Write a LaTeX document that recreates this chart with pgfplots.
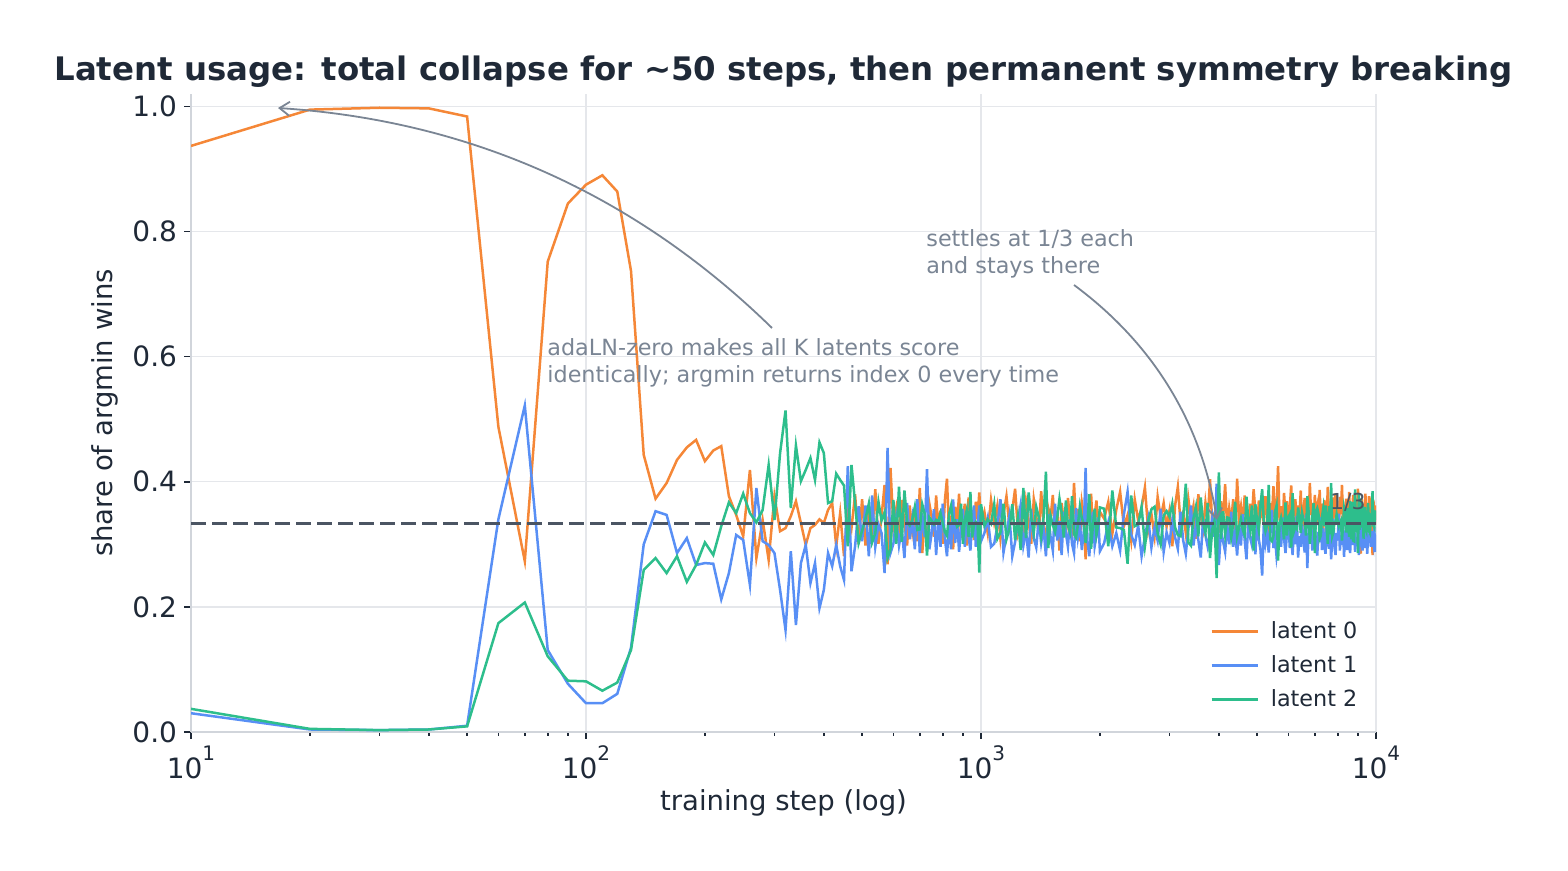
\documentclass[border=0pt]{standalone}
\usepackage{pgfplots}
\pgfplotsset{compat=1.18}
\usepackage{pgfplotstable}
\usepackage{fontspec}
\setmainfont{DejaVu Sans}
\usetikzlibrary{arrows.meta}
\definecolor{cO}{RGB}{245,135,55}
\definecolor{cB}{RGB}{88,143,245}
\definecolor{cG}{RGB}{45,190,140}
\definecolor{cDash}{RGB}{75,85,99}
\definecolor{cAnn}{RGB}{122,133,148}
\definecolor{cTxt}{RGB}{31,41,55}
\definecolor{cGrid}{RGB}{229,231,235}
\definecolor{cSpine}{RGB}{209,213,219}

\pgfplotstableread{
step l0 l1 l2
10 0.937 0.030 0.037
20 0.995 0.004 0.005
30 0.998 0.003 0.003
40 0.997 0.004 0.004
50 0.984 0.010 0.009
60 0.488 0.340 0.174
70 0.273 0.522 0.207
80 0.752 0.131 0.121
90 0.845 0.077 0.082
100 0.875 0.046 0.081
110 0.890 0.046 0.066
120 0.864 0.061 0.079
130 0.737 0.135 0.131
140 0.443 0.300 0.259
150 0.373 0.353 0.278
160 0.398 0.347 0.254
170 0.435 0.286 0.281
180 0.455 0.310 0.240
190 0.467 0.267 0.267
200 0.433 0.270 0.303
210 0.450 0.269 0.283
220 0.457 0.212 0.329
230 0.377 0.254 0.367
240 0.347 0.315 0.350
250 0.313 0.307 0.381
260 0.419 0.235 0.350
270 0.278 0.390 0.335
280 0.339 0.305 0.355
290 0.275 0.299 0.427
300 0.377 0.286 0.339
310 0.321 0.227 0.446
320 0.326 0.163 0.514
330 0.345 0.289 0.358
340 0.369 0.171 0.458
350 0.334 0.270 0.401
360 0.299 0.299 0.419
370 0.326 0.238 0.438
380 0.331 0.270 0.403
390 0.340 0.198 0.463
400 0.334 0.227 0.446
410 0.355 0.286 0.366
420 0.366 0.265 0.369
430 0.297 0.299 0.413
440 0.350 0.265 0.403
450 0.281 0.243 0.394
460 0.355 0.425 0.297
470 0.326 0.257 0.427
480 0.380 0.297 0.366
490 0.300 0.361 0.302
500 0.372 0.305 0.322
510 0.298 0.362 0.341
520 0.355 0.281 0.365
530 0.318 0.378 0.303
540 0.388 0.296 0.318
550 0.301 0.332 0.368
560 0.344 0.318 0.338
570 0.395 0.254 0.351
580 0.268 0.454 0.278
590 0.422 0.286 0.292
600 0.329 0.301 0.371
610 0.357 0.342 0.301
620 0.310 0.298 0.392
630 0.371 0.325 0.304
640 0.336 0.278 0.386
650 0.298 0.366 0.336
660 0.362 0.308 0.330
670 0.320 0.341 0.339
680 0.348 0.292 0.360
690 0.305 0.372 0.323
700 0.390 0.286 0.324
710 0.286 0.350 0.364
720 0.339 0.312 0.349
730 0.298 0.420 0.282
740 0.365 0.292 0.343
750 0.344 0.318 0.338
760 0.312 0.356 0.332
770 0.378 0.283 0.339
780 0.326 0.338 0.336
790 0.354 0.296 0.350
800 0.301 0.365 0.334
810 0.370 0.310 0.320
820 0.405 0.281 0.314
830 0.318 0.334 0.348
840 0.346 0.292 0.362
850 0.292 0.372 0.336
860 0.360 0.302 0.338
870 0.332 0.340 0.328
880 0.381 0.288 0.331
890 0.310 0.325 0.365
900 0.343 0.356 0.301
910 0.365 0.296 0.339
920 0.298 0.348 0.354
930 0.375 0.313 0.312
940 0.326 0.290 0.384
950 0.352 0.337 0.311
960 0.307 0.362 0.331
970 0.368 0.296 0.336
980 0.340 0.328 0.332
990 0.383 0.362 0.255
1000 0.331 0.305 0.364
1020 0.352 0.318 0.330
1040 0.318 0.342 0.340
1060 0.371 0.296 0.333
1080 0.335 0.301 0.364
1100 0.362 0.329 0.309
1120 0.309 0.372 0.319
1140 0.348 0.287 0.365
1160 0.377 0.315 0.308
1180 0.329 0.346 0.325
1200 0.355 0.281 0.364
1220 0.389 0.304 0.307
1240 0.321 0.335 0.344
1260 0.346 0.363 0.291
1280 0.312 0.298 0.390
1300 0.368 0.322 0.310
1320 0.338 0.279 0.383
1340 0.301 0.356 0.343
1360 0.372 0.310 0.318
1380 0.345 0.295 0.360
1400 0.316 0.340 0.344
1420 0.385 0.302 0.313
1440 0.331 0.326 0.343
1460 0.303 0.281 0.416
1480 0.358 0.348 0.294
1500 0.342 0.312 0.346
1520 0.379 0.290 0.331
1540 0.315 0.365 0.320
1560 0.351 0.306 0.343
1580 0.290 0.337 0.373
1600 0.366 0.283 0.351
1620 0.337 0.352 0.311
1640 0.312 0.318 0.370
1660 0.374 0.296 0.330
1680 0.341 0.340 0.319
1700 0.322 0.301 0.377
1720 0.398 0.286 0.316
1740 0.331 0.358 0.311
1760 0.356 0.312 0.332
1780 0.305 0.334 0.361
1800 0.367 0.291 0.342
1820 0.348 0.319 0.333
1840 0.276 0.422 0.302
1860 0.362 0.305 0.333
1880 0.339 0.281 0.380
1900 0.381 0.326 0.293
1920 0.318 0.352 0.330
1940 0.346 0.297 0.357
1960 0.370 0.315 0.315
1980 0.327 0.343 0.330
2000 0.352 0.289 0.359
2050 0.341 0.302 0.357
2100 0.368 0.335 0.297
2150 0.317 0.297 0.386
2200 0.355 0.318 0.327
2250 0.384 0.290 0.326
2300 0.329 0.348 0.323
2350 0.347 0.384 0.269
2400 0.306 0.316 0.378
2450 0.372 0.299 0.329
2500 0.338 0.330 0.332
2550 0.359 0.281 0.360
2600 0.391 0.312 0.297
2650 0.322 0.341 0.337
2700 0.349 0.295 0.356
2750 0.313 0.327 0.360
2800 0.376 0.306 0.318
2850 0.343 0.357 0.300
2900 0.366 0.288 0.346
2950 0.328 0.319 0.353
3000 0.354 0.302 0.344
3050 0.297 0.338 0.365
3100 0.362 0.311 0.327
3150 0.392 0.293 0.315
3200 0.335 0.352 0.313
3250 0.351 0.306 0.343
3300 0.318 0.285 0.397
3350 0.372 0.325 0.303
3400 0.340 0.362 0.298
3450 0.361 0.298 0.341
3500 0.309 0.331 0.360
3550 0.380 0.307 0.313
3600 0.346 0.279 0.375
3650 0.325 0.341 0.334
3700 0.367 0.314 0.319
3750 0.338 0.296 0.366
3800 0.404 0.318 0.278
3850 0.333 0.343 0.324
3900 0.350 0.312 0.338
3950 0.357 0.397 0.246
4000 0.318 0.267 0.415
4050 0.369 0.322 0.309
4100 0.342 0.305 0.353
4150 0.396 0.288 0.316
4200 0.326 0.331 0.343
4250 0.358 0.300 0.342
4300 0.337 0.352 0.311
4350 0.372 0.296 0.332
4400 0.312 0.320 0.368
4450 0.405 0.282 0.313
4500 0.344 0.329 0.327
4550 0.361 0.298 0.341
4600 0.329 0.348 0.323
4650 0.378 0.307 0.315
4700 0.348 0.276 0.376
4750 0.323 0.338 0.339
4800 0.365 0.311 0.324
4850 0.339 0.299 0.362
4900 0.388 0.322 0.290
4950 0.352 0.284 0.364
5000 0.317 0.346 0.337
5050 0.370 0.308 0.322
5100 0.345 0.291 0.364
5150 0.362 0.250 0.388
5200 0.331 0.334 0.335
5250 0.377 0.302 0.321
5300 0.350 0.319 0.331
5350 0.318 0.287 0.395
5400 0.366 0.326 0.308
5450 0.340 0.355 0.305
5500 0.393 0.294 0.313
5550 0.336 0.312 0.352
5600 0.357 0.281 0.362
5650 0.425 0.301 0.274
5700 0.338 0.329 0.333
5750 0.361 0.296 0.343
5800 0.326 0.343 0.331
5850 0.382 0.310 0.308
5900 0.347 0.286 0.367
5950 0.369 0.317 0.314
6000 0.320 0.337 0.343
6050 0.358 0.294 0.348
6100 0.394 0.311 0.295
6150 0.335 0.283 0.382
6200 0.351 0.328 0.321
6250 0.372 0.300 0.328
6300 0.329 0.346 0.325
6350 0.362 0.279 0.359
6400 0.344 0.313 0.343
6450 0.386 0.296 0.318
6500 0.318 0.332 0.350
6550 0.355 0.305 0.340
6600 0.374 0.287 0.339
6650 0.338 0.348 0.314
6700 0.361 0.262 0.377
6750 0.329 0.318 0.353
6800 0.398 0.301 0.301
6850 0.347 0.327 0.326
6900 0.366 0.290 0.344
6950 0.322 0.312 0.366
7000 0.379 0.335 0.286
7050 0.349 0.297 0.354
7100 0.360 0.282 0.358
7150 0.331 0.320 0.349
7200 0.387 0.304 0.309
7250 0.342 0.344 0.314
7300 0.365 0.291 0.344
7350 0.317 0.326 0.357
7400 0.371 0.300 0.329
7450 0.353 0.285 0.362
7500 0.335 0.338 0.327
7550 0.392 0.307 0.301
7600 0.346 0.293 0.361
7650 0.363 0.321 0.316
7700 0.326 0.276 0.398
7750 0.375 0.312 0.313
7800 0.340 0.341 0.319
7850 0.368 0.296 0.336
7900 0.381 0.283 0.336
7950 0.334 0.318 0.348
8000 0.357 0.306 0.337
8050 0.322 0.349 0.329
8100 0.376 0.290 0.334
8150 0.348 0.314 0.338
8200 0.395 0.299 0.306
8250 0.337 0.333 0.330
8300 0.362 0.280 0.358
8350 0.329 0.322 0.349
8400 0.373 0.308 0.319
8450 0.351 0.291 0.358
8500 0.318 0.336 0.346
8550 0.384 0.304 0.312
8600 0.345 0.286 0.369
8650 0.366 0.326 0.308
8700 0.333 0.299 0.368
8750 0.379 0.315 0.306
8800 0.355 0.340 0.305
8850 0.324 0.288 0.388
8900 0.370 0.311 0.319
8950 0.343 0.297 0.360
9000 0.389 0.325 0.286
9050 0.336 0.283 0.381
9100 0.359 0.318 0.323
9150 0.285 0.342 0.373
9200 0.372 0.301 0.327
9250 0.348 0.290 0.362
9300 0.364 0.327 0.309
9350 0.331 0.309 0.360
9400 0.381 0.294 0.325
9450 0.343 0.336 0.321
9500 0.366 0.285 0.349
9550 0.320 0.314 0.366
9600 0.377 0.302 0.321
9650 0.352 0.330 0.318
9700 0.361 0.296 0.343
9750 0.339 0.321 0.340
9800 0.283 0.309 0.385
9850 0.370 0.300 0.330
9900 0.346 0.327 0.327
9950 0.362 0.288 0.350
10000 0.331 0.315 0.354
}\usage

\newcommand\tp[1]{10\raisebox{1.15ex}{\fontsize{10}{10}\selectfont #1}}

\begin{document}
\begin{tikzpicture}
\useasboundingbox (0,0) rectangle (784pt,435.5pt);
\begin{axis}[
  at={(95.5pt,69.5pt)}, anchor=south west,
  scale only axis, width=592.5pt, height=319pt,
  xmode=log, xmin=10, xmax=10000, ymin=0, ymax=1.02,
  axis lines*=left,
  axis line style={cSpine, line width=0.8pt},
  grid=major, major grid style={cGrid, line width=0.7pt},
  xtick={10,100,1000,10000},
  xticklabels={\tp{1},\tp{2},\tp{3},\tp{4}},
  minor xtick={20,30,40,50,60,70,80,90,200,300,400,500,600,700,800,900,2000,3000,4000,5000,6000,7000,8000,9000},
  ytick={0,0.2,0.4,0.6,0.8,1.0},
  yticklabels={0.0,0.2,0.4,0.6,0.8,1.0},
  tick align=outside,
  major tick length=3.5pt, minor tick length=2pt,
  every tick/.style={cTxt, line width=0.8pt},
  tick label style={font=\fontsize{14}{14}\selectfont, text=cTxt},
  legend style={at={(0.993,0.022)}, anchor=south east, draw=none, fill=white,
    font=\fontsize{11.15}{13}\selectfont, text=cTxt, row sep=3pt,
    /tikz/every odd column/.append style={column sep=4pt}},
  legend cell align=left,
  legend image code/.code={\draw[#1] (0pt,0pt) -- (23pt,0pt);},
]
\addplot[cO, line width=1.25pt] table[x=step, y=l0] {\usage};
\addlegendentry{latent 0}
\addplot[cB, line width=1.25pt] table[x=step, y=l1] {\usage};
\addlegendentry{latent 1}
\addplot[cG, line width=1.25pt] table[x=step, y=l2] {\usage};
\addlegendentry{latent 2}
\addplot[cDash, line width=1.5pt, dash pattern=on 7.5pt off 3pt, forget plot] coordinates {(10,0.33333) (10000,0.33333)};
\end{axis}
\node[anchor=base, font=\fontsize{16.2}{16.2}\selectfont\bfseries, text=cTxt] at (391.75pt,395.25pt) {Latent usage: total collapse for \textasciitilde50 steps, then permanent symmetry breaking};
\node[anchor=base, font=\fontsize{13.75}{13.75}\selectfont, text=cTxt] at (391.75pt,30pt) {training step (log)};
\node[rotate=90, anchor=center, font=\fontsize{13.75}{13.75}\selectfont, text=cTxt] at (52.5pt,229pt) {share of argmin wins};
\begin{scope}[font=\fontsize{11.15}{13.35}\selectfont, text=cAnn]
\node[anchor=base west, inner sep=0] at (273.5pt,257.5pt) {adaLN-zero makes all K latents score};
\node[anchor=base west, inner sep=0] at (273.5pt,244.15pt) {identically; argmin returns index 0 every time};
\node[anchor=base west, inner sep=0] at (463pt,312.15pt) {settles at 1/3 each};
\node[anchor=base west, inner sep=0] at (463pt,298.8pt) {and stays there};
\end{scope}
\node[anchor=base east, inner sep=0, font=\fontsize{11}{11}\selectfont, text=cDash] at (683pt,180.5pt) {1/3};
\draw[cAnn, line width=0.9pt, -{Straight Barb[length=5pt,width=7pt]}] (386pt,271.5pt) .. controls (317.25pt,338.6pt) and (234.9pt,375.25pt) .. (139pt,381.5pt);
\draw[cAnn, line width=0.9pt, -{Straight Barb[length=5pt,width=7pt]}] (537pt,293pt) .. controls (576.75pt,263.55pt) and (600.6pt,224.35pt) .. (608.5pt,175.5pt);
\end{tikzpicture}
\end{document}
